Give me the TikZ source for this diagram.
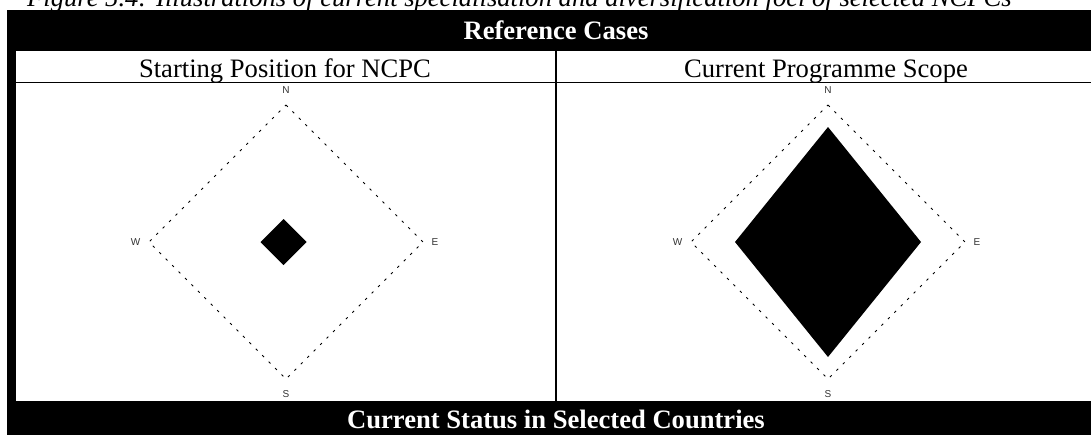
\documentclass[tikz,border=0pt]{standalone}
\usepackage{fontspec}
\setmainfont{Liberation Serif}
\setsansfont{Liberation Sans}
\usepackage{tikz}
\usetikzlibrary{positioning, calc}

\begin{document}
\begin{tikzpicture}[x=1pt, y=-1pt,
    every node/.style={inner sep=0pt},
    bigfont/.style={font=\fontsize{26.6}{30}\selectfont},
    bar/.style={text=white, font=\fontsize{26.6}{30}\selectfont\bfseries},
    compass/.style={font=\sffamily\fontsize{10}{12}\selectfont, text=black!80},
    outline/.style={line width=0.9pt, dash pattern=on 2.5pt off 6.6pt},
    focus/.style={fill=black},
    rule/.style={line width=1.4pt}]
  \useasboundingbox (0,0) rectangle (1091,434);
  \clip (0,0) rectangle (1091,434);

  % Caption
  \node[anchor=base west, font=\fontsize{26.6}{30}\selectfont\itshape] (caption) at (27,6)
    {Figure 5.4: Illustrations of current specialisation and diversification foci of selected NCPCs};

  % Table frame
  \fill (7,10) rectangle (1105,440);
  \fill[white] (16,51) rectangle (1096,401);
  \draw[rule] (16,82.5) -- (1096,82.5);
  \draw[rule] (556,51) -- (556,401);

  % Bars and headings
  \node[bar, anchor=base] (refcases) at (556,39) {Reference Cases};
  \node[bigfont, anchor=base] (starthead) at (285,77.5) {Starting Position for NCPC};
  \node[bigfont, anchor=base] (scopehead) at (826,77.5) {Current Programme Scope};
  \node[bar, anchor=base] (status) at (556,428) {Current Status in Selected Countries};

  % Starting position: outer range
  \coordinate (lN) at (286,105);
  \coordinate (lE) at (423,242);
  \coordinate (lS) at (286,379);
  \coordinate (lW) at (149,242);
  \draw[outline] (lN) -- (lE) -- (lS) -- (lW) -- cycle;
  \node[compass, above=11pt of lN] (lNlab) {N};
  \node[compass, right=8.5pt of lE] (lElab) {E};
  \node[compass, below=11pt of lS] (lSlab) {S};
  \node[compass, left=8.5pt of lW] (lWlab) {W};

  % Starting position: focus
  \fill[focus] (283.5,219) -- (306.5,242) -- (283.5,265) -- (260.5,242) -- cycle;

  % Programme scope: outer range
  \coordinate (rN) at (828,105);
  \coordinate (rE) at (965,242);
  \coordinate (rS) at (828,379);
  \coordinate (rW) at (691,242);
  \draw[outline] (rN) -- (rE) -- (rS) -- (rW) -- cycle;
  \node[compass, above=11pt of rN] (rNlab) {N};
  \node[compass, right=8.5pt of rE] (rElab) {E};
  \node[compass, below=11pt of rS] (rSlab) {S};
  \node[compass, left=8.5pt of rW] (rWlab) {W};

  % Programme scope: focus
  \fill[focus] (828,127) -- (921,242) -- (828,357) -- (735,242) -- cycle;

\end{tikzpicture}
\end{document}
